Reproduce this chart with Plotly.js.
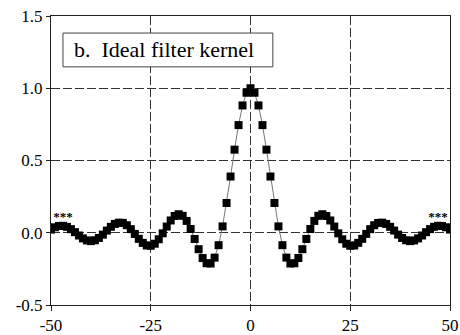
<!DOCTYPE html>
<html>
<head>
<meta charset="utf-8">
<script src="https://cdn.plot.ly/plotly-3.0.1.min.js"></script>
<style>html,body{margin:0;padding:0;background:#fff;}#chart{width:460px;height:335px;}</style>
</head>
<body>
<div id="chart"></div>
<script>
// sample index
const sampleIndex = [];
for (let i = -50; i <= 50; i++) sampleIndex.push(i);

// kernel amplitudes, for samples 0..50 (symmetric)
const halfKernel = [
  1.000, 0.969, 0.881, 0.745, 0.575, 0.389, 0.206, 0.044, -0.086, -0.172,
  -0.213, -0.211, -0.175, -0.114, -0.043, 0.026, 0.082, 0.117, 0.128, 0.116,
  0.085, 0.043, -0.004, -0.045, -0.076, -0.090, -0.088, -0.070, -0.042, -0.008,
  0.025, 0.052, 0.068, 0.070, 0.061, 0.041, 0.015, -0.013, -0.036, -0.052,
  -0.058, -0.053, -0.039, -0.019, 0.004, 0.025, 0.041, 0.048, 0.047, 0.038,
  0.022
];
const kernel = sampleIndex.map(i => halfKernel[Math.abs(i)]);

// "***" continuation marks
const contX = [-47, 47];
const contY = [0.105, 0.105];
const contText = ['<b>***</b>', '<b>***</b>'];

const xTicks = [-50, -25, 0, 25, 50];
const xTickText = ['-50', '-25', '0', '25', '50'];
const yTicks = [-0.5, 0, 0.5, 1.0, 1.5];
const yTickText = ['-0.5', '0.0', '0.5', '1.0', '1.5'];

const panelLabel = 'b.  Ideal filter kernel';

const serif = 'Liberation Serif';

const traces = [
  {
    x: sampleIndex, y: kernel, type: 'scatter', mode: 'lines+markers',
    line: {color: '#777', width: 1},
    marker: {symbol: 'square', size: 8, color: '#000'},
    hoverinfo: 'none', showlegend: false
  },
  {
    x: contX, y: contY, type: 'scatter', mode: 'text', text: contText,
    textfont: {family: serif, size: 13, color: '#000'},
    hoverinfo: 'none', showlegend: false
  }
];

const axisCommon = {
  showline: true, linecolor: '#222', linewidth: 1, mirror: true,
  showgrid: true, gridcolor: '#333', gridwidth: 1, griddash: '9px,3px',
  zeroline: false, ticks: 'outside', tickcolor: '#222'
};

const layout = {
  width: 460, height: 335,
  font: {family: serif, size: 17, color: '#000'},
  margin: {l: 51, r: 10, t: 16, b: 30},
  paper_bgcolor: '#fff', plot_bgcolor: '#fff',
  xaxis: Object.assign({}, axisCommon, {
    range: [-50, 50], tickmode: 'array', tickvals: xTicks, ticktext: xTickText,
    ticklen: 5, tickfont: {family: serif, size: 17, color: '#000'}
  }),
  yaxis: Object.assign({}, axisCommon, {
    range: [-0.5, 1.5], tickmode: 'array', tickvals: yTicks, ticktext: yTickText,
    ticklen: 4, tickfont: {family: serif, size: 17, color: '#000'}
  }),
  shapes: [{
    type: 'rect', xref: 'paper', yref: 'paper',
    x0: 0.030, x1: 0.556, y0: 0.824, y1: 0.941,
    line: {color: '#444', width: 1}, fillcolor: '#fff', layer: 'above'
  }],
  annotations: [{
    xref: 'paper', yref: 'paper', x: 0.053, y: 0.885,
    xanchor: 'left', yanchor: 'middle', showarrow: false,
    text: panelLabel, font: {family: serif, size: 22, color: '#000'}
  }]
};

Plotly.newPlot('chart', traces, layout, {displayModeBar: false, staticPlot: true}).then(function () {
  // ensure the serif family is applied to every Plotly text element
  document.querySelectorAll('#chart text').forEach(function (t) {
    t.style.fontFamily = "'Liberation Serif', serif";
  });
});
</script>
</body>
</html>
